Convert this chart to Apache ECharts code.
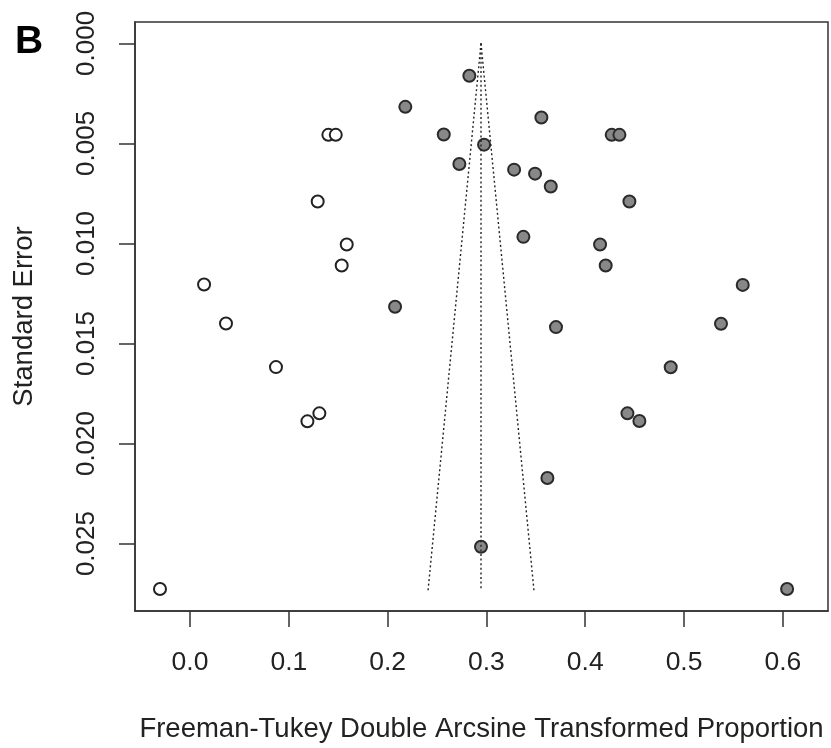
<!DOCTYPE html>
<html>
<head>
<meta charset="utf-8">
<script src="https://cdn.jsdelivr.net/npm/echarts@6/dist/echarts.min.js"></script>
<style>html,body{margin:0;padding:0;background:#fff}#c{width:831px;height:748px}</style>
</head>
<body>
<div id="c"></div>
<script>
// Observed studies (filled): [transformed proportion, standard error]
const observedX = [0.2827,0.2179,0.2568,0.2976,0.3556,0.2726,0.3280,0.3492,0.3651,0.3374,0.4268,0.4346,0.4447,0.4150,0.4207,0.5594,0.5374,0.3704,0.4865,0.4427,0.4548,0.2075,0.3617,0.2945,0.6043];
const observedSE = [0.00162,0.00317,0.00455,0.00506,0.00370,0.00603,0.00631,0.00651,0.00715,0.00967,0.00457,0.00457,0.00790,0.01005,0.01110,0.01207,0.01401,0.01418,0.01619,0.01849,0.01887,0.01316,0.02172,0.02516,0.02727];
// Imputed studies (hollow, trim-and-fill)
const imputedX = [0.1400,0.1475,0.1292,0.1586,0.1535,0.1309,0.1188,0.0142,0.0364,0.0870,-0.0304];
const imputedSE = [0.00457,0.00457,0.00790,0.01005,0.01110,0.01849,0.01889,0.01205,0.01400,0.01618,0.02727];
// Pooled estimate and funnel extent
const pooled = 0.2945;
const seMax = 0.02735;
const z = 1.96;
// Tick values
const xTicks = [0.0,0.1,0.2,0.3,0.4,0.5,0.6];
const yTicks = [0.000,0.005,0.010,0.015,0.020,0.025];

const observed = observedX.map((x,i)=>[x, observedSE[i]]);
const imputed = imputedX.map((x,i)=>[x, imputedSE[i]]);
const funnelLeft = [[pooled,0],[pooled - z*seMax, seMax]];
const funnelCenter = [[pooled,0],[pooled, seMax]];
const funnelRight = [[pooled,0],[pooled + z*seMax, seMax]];

const font = 'Liberation Sans, Arial, Helvetica, sans-serif';
const chart = echarts.init(document.getElementById('c'), null, {renderer:'canvas'});
const dotted = {color:'#222', width:1.4, type:[2,2.6]};
chart.setOption({
  animation:false,
  backgroundColor:'#fff',
  grid:{left:135, right:3, top:22, bottom:136, show:true, borderColor:'#333', borderWidth:1.5, backgroundColor:'transparent'},
  xAxis:{
    type:'value', min:-0.0557, max:0.6457,
    axisLine:{show:true, onZero:false, lineStyle:{color:'#333', width:1.5}},
    axisTick:{show:true, length:16, customValues:xTicks, lineStyle:{color:'#333', width:1.5}},
    axisLabel:{customValues:xTicks, margin:38, fontSize:26.5, color:'#222', fontFamily:font, formatter:v=>v.toFixed(1)},
    splitLine:{show:false},
    name:'Freeman-Tukey Double Arcsine Transformed Proportion',
    nameLocation:'middle', nameGap:104,
    nameTextStyle:{fontSize:27.5, color:'#222', fontFamily:font}
  },
  yAxis:{
    type:'value', inverse:true, min:-0.00107, max:0.02837,
    axisLine:{show:true, onZero:false, lineStyle:{color:'#333', width:1.5}},
    axisTick:{show:true, length:16, customValues:yTicks, lineStyle:{color:'#333', width:1.5}},
    axisLabel:{customValues:yTicks, rotate:90, margin:35, fontSize:26, color:'#222', fontFamily:font, formatter:v=>v.toFixed(3)},
    splitLine:{show:false},
    name:'Standard Error',
    nameLocation:'middle', nameGap:97,
    nameTextStyle:{fontSize:27.5, color:'#222', fontFamily:font}
  },
  graphic:[{type:'text', left:15, top:23, style:{text:'B', fontSize:39, fontWeight:'bold', fill:'#000', fontFamily:font}}],
  series:[
    {type:'line', data:funnelLeft, symbol:'none', lineStyle:dotted, silent:true},
    {type:'line', data:funnelCenter, symbol:'none', lineStyle:dotted, silent:true},
    {type:'line', data:funnelRight, symbol:'none', lineStyle:dotted, silent:true},
    {type:'scatter', data:imputed, symbolSize:12, itemStyle:{color:'#fff', borderColor:'#222', borderWidth:2, opacity:1}},
    {type:'scatter', data:observed, symbolSize:12, itemStyle:{color:'#888', borderColor:'#2a2a2a', borderWidth:2, opacity:1}}
  ]
});
</script>
</body>
</html>
